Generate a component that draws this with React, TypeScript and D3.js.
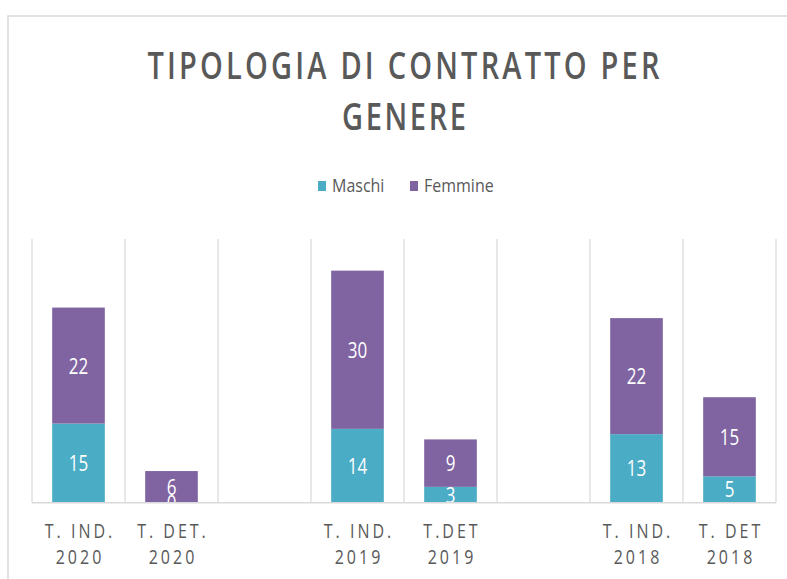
import React from 'react';
import * as d3 from 'd3';

// categories (empty slots are the gaps between years)
const categories = ['T. IND. 2020', 'T. DET. 2020', 'gap1', 'T. IND. 2019', 'T.DET 2019', 'gap2', 'T. IND. 2018', 'T. DET 2018'];
const labelLines = [
  ['T. IND.', '2020'],
  ['T. DET.', '2020'],
  ['', ''],
  ['T. IND.', '2019'],
  ['T.DET', '2019'],
  ['', ''],
  ['T. IND.', '2018'],
  ['T. DET', '2018'],
];
const maschi = [15, 0, null, 14, 3, null, 13, 5];
const femmine = [22, 6, null, 30, 9, null, 22, 15];
const seriesNames = ['Maschi', 'Femmine'];
const seriesColors = ['#4BACC6', '#8064A2'];

const W = 787;
const H = 579;
const plot = { left: 32, right: 776, top: 239, bottom: 502.7 };
const textColor = '#595959';
const gridColor = '#d9d9d9';
const stretch = 1.3; // the original text is tall and narrow

const App = () => {
  const x = d3.scaleBand<string>().domain(categories).range([plot.left, plot.right]).paddingInner(0);
  const y = d3.scaleLinear().domain([0, 50]).range([plot.bottom, plot.top]);
  const barW = x.bandwidth() * 0.566;
  const cx = (c: string) => (x(c) as number) + x.bandwidth() / 2;

  const rows = categories.map((c, i) => ({ key: c, Maschi: maschi[i] ?? 0, Femmine: femmine[i] ?? 0, empty: maschi[i] == null }));
  const stack = d3.stack<any>().keys(seriesNames)(rows);

  const legendItems = [
    { name: 'Maschi', sx: 318, tx: 332 },
    { name: 'Femmine', sx: 410, tx: 424 },
  ];

  return (
    <svg width={W} height={H} style={{ position: 'absolute', left: 0, top: 0, background: '#fff' }}
      fontFamily="'Open Sans', sans-serif">
      <defs>
        <clipPath id="plotClip">
          <rect x={plot.left} y={plot.top - 5} width={plot.right - plot.left} height={plot.bottom - plot.top + 5} />
        </clipPath>
      </defs>
      {/* chart frame */}
      <path d={`M8,${H + 2}V16H${W + 2}`} fill="none" stroke={gridColor} strokeWidth={1.5} />

      {/* title */}
      <text transform={`translate(403.5,79) scale(1,${stretch})`} textAnchor="middle" fontSize={29} fontWeight={600}
        fill={textColor} textLength={512} lengthAdjust="spacing">TIPOLOGIA  DI CONTRATTO  PER</text>
      <text transform={`translate(404,130) scale(1,${stretch})`} textAnchor="middle" fontSize={29} fontWeight={600}
        fill={textColor} textLength={124} lengthAdjust="spacing">GENERE</text>

      {/* legend */}
      {legendItems.map((d, i) => (
        <g key={d.name}>
          <rect x={d.sx} y={181} width={8} height={10} fill={seriesColors[i]} />
          <text transform={`translate(${d.tx},192) scale(1,1.15)`} fontSize={16} fill={textColor}>{d.name}</text>
        </g>
      ))}

      {/* vertical gridlines at category boundaries */}
      {categories.map((c) => (
        <line key={'g' + c} x1={x(c)} x2={x(c)} y1={plot.top} y2={plot.bottom} stroke={gridColor} strokeWidth={1.2} />
      ))}
      <line x1={plot.right} x2={plot.right} y1={plot.top} y2={plot.bottom} stroke={gridColor} strokeWidth={1.2} />

      {/* bars */}
      {stack.map((s, si) => (
        <g key={s.key} fill={seriesColors[si]}>
          {s.map((d, i) => rows[i].empty ? null : (
            <rect key={i} x={(x(categories[i]) as number) + (x.bandwidth() - barW) / 2} width={barW}
              y={y(d[1])} height={y(d[0]) - y(d[1])} />
          ))}
        </g>
      ))}

      {/* data labels */}
      <g clipPath="url(#plotClip)">
        {stack.map((s, si) => s.map((d, i) => rows[i].empty ? null : (
          <text key={s.key + i} transform={`translate(${cx(categories[i])},${(y(d[0]) + y(d[1])) / 2}) scale(1,${stretch})`}
            dy="0.36em" textAnchor="middle" fontSize={17} fill="#fff">{d[1] - d[0]}</text>
        )))}
      </g>

      {/* baseline */}
      <line x1={plot.left} x2={plot.right} y1={plot.bottom} y2={plot.bottom} stroke={gridColor} strokeWidth={1.6} />

      {/* category labels */}
      {categories.map((c, i) => (
        <g key={'l' + c}>
          <text transform={`translate(${cx(c) + 1.5},538) scale(1,${stretch})`} textAnchor="middle" fontSize={16}
            letterSpacing={3} fill={textColor}>{labelLines[i][0]}</text>
          <text transform={`translate(${cx(c) + 1.5},564) scale(1,${stretch})`} textAnchor="middle" fontSize={16}
            letterSpacing={3} fill={textColor}>{labelLines[i][1]}</text>
        </g>
      ))}
    </svg>
  );
};

export default App;
